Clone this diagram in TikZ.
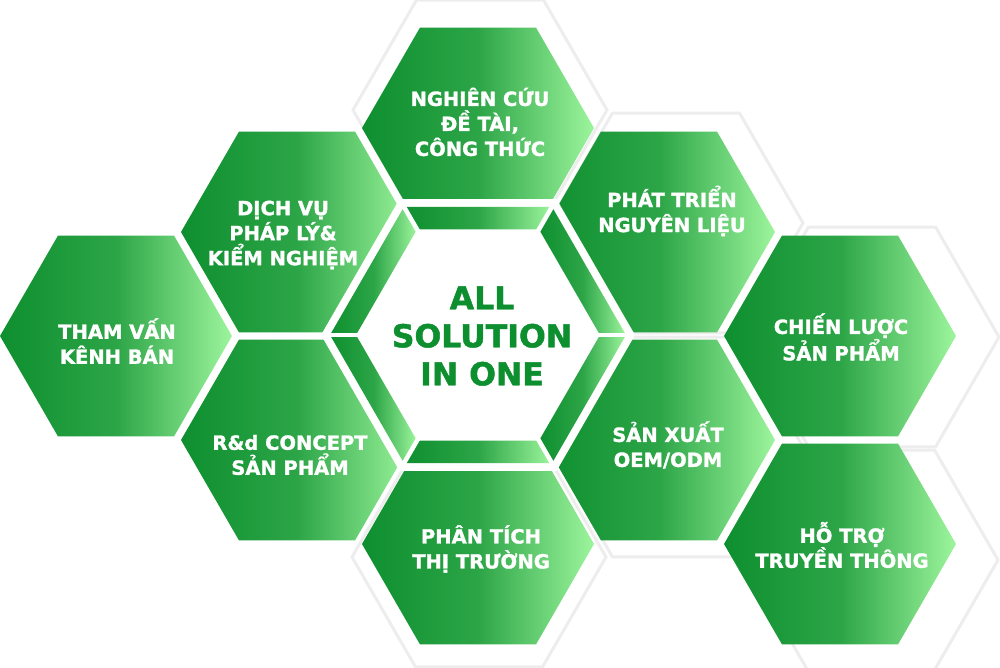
\documentclass[tikz,border=0pt]{standalone}
\usepackage{fontspec}
\setmainfont{DejaVu Sans}[BoldFeatures={FakeBold=1.5}]
\usetikzlibrary{shapes.geometric, calc}
\definecolor{hexdark}{HTML}{0E8F2F}
\definecolor{hexmid}{HTML}{2CA547}
\definecolor{hexlight}{HTML}{9DF59C}
\definecolor{outlinegray}{HTML}{EDEDED}

\begin{document}
\begin{tikzpicture}[x=1pt, y=-1pt,
    cell/.style={regular polygon, regular polygon sides=6, minimum size=232pt, inner sep=0pt, outer sep=0pt,
        left color=hexdark, right color=hexlight, middle color=hexmid},
    backline/.style={regular polygon, regular polygon sides=6, minimum size=254pt, inner sep=0pt, outer sep=0pt,
        draw=outlinegray, line width=3pt},
    band/.style={left color=hexdark, right color=hexlight, middle color=hexmid},
    celltext/.style={text=white, font=\bfseries\fontsize{19.5}{25}\selectfont, align=center}]
    \useasboundingbox (0,0) rectangle (1000,668);
    \coordinate (c) at (478,335);
    % Light outlines behind the right-hand cells
    \node (bn) [backline] at (480,110) {};
    \node (bne) [backline] at (676,223) {};
    \node (bse) [backline] at (676,447) {};
    \node (bs) [backline] at (479,557) {};
    \node (be) [backline] at (872,337) {};
    \node (bfar) [backline] at (871,560) {};
    % Cells
    \node (n) [cell] at (478,128) {};
    \node (nw) [cell] at (297,232) {};
    \node (w) [cell] at (116,336) {};
    \node (sw) [cell] at (297,440) {};
    \node (s) [cell] at (478,544) {};
    \node (ne) [cell] at (659,232) {};
    \node (se) [cell] at (659,440) {};
    \node (e) [cell] at (840,336) {};
    \node (far) [cell] at (840,544) {};
    % White hub cut out of the cells
    \node (hub) [regular polygon, regular polygon sides=6, minimum size=314pt, inner sep=0pt, fill=white] at (c) {};
    % Frame of the hub
    \foreach \a in {0,60,...,300}
        \shade[band] ($(c)+(\a:148)$) -- ($(c)+(\a+60:148)$) -- ($(c)+(\a+60:122)$) -- ($(c)+(\a:122)$) -- cycle;
    \foreach \a in {0,60,...,300}
        \draw[white, line width=4.5pt] ($(c)+(\a:118)$) -- ($(c)+(\a:153)$);
    % Labels
    \node (tn) [celltext] at (480,122) {NGHIÊN CỨU\\ĐỀ TÀI,\\CÔNG THỨC};
    \node (tnw) [celltext] at (283,235) {DỊCH VỤ\\PHÁP LÝ\&\\KIỂM NGHIỆM};
    \node (tw) [celltext] at (117,341) {THAM VẤN\\KÊNH BÁN};
    \node (tsw) [celltext] at (290,455) {R\&d CONCEPT\\SẢN PHẨM};
    \node (ts) [celltext] at (481,549) {PHÂN TÍCH\\THỊ TRƯỜNG};
    \node (tne) [celltext] at (672,211) {PHÁT TRIỂN\\NGUYÊN LIỆU};
    \node (tse) [celltext] at (668,445) {SẢN XUẤT\\OEM/ODM};
    \node (te) [celltext] at (841,337) {CHIẾN LƯỢC\\SẢN PHẨM};
    \node (tfar) [celltext] at (842,545) {HỖ TRỢ\\TRUYỀN THÔNG};
    \node (thub) [text=hexdark, font=\bfseries\fontsize{31.5}{38}\selectfont, align=center] at (482,336) {ALL\\SOLUTION\\IN ONE};
\end{tikzpicture}
\end{document}
